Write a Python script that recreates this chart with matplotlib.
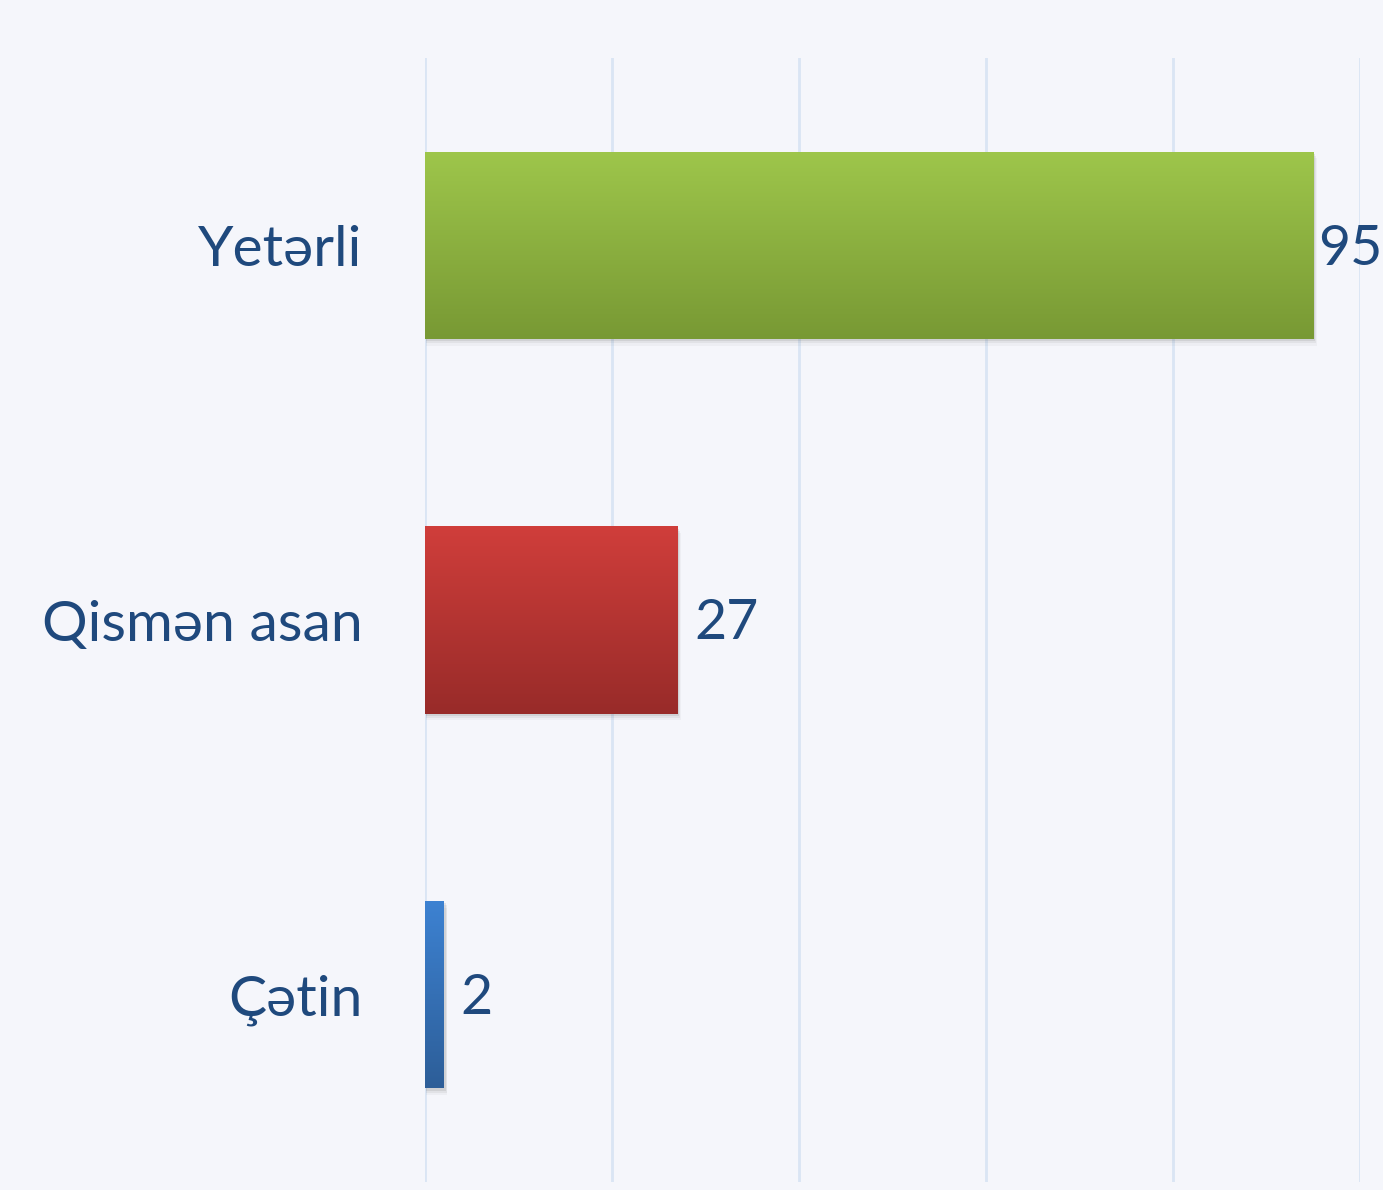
import numpy as np
import matplotlib
matplotlib.use("Agg")
import matplotlib.pyplot as plt
from matplotlib.colors import LinearSegmentedColormap
from matplotlib.patches import Rectangle

categories = ["Çətin", "Qismən asan", "Yetərli"]
values = [2, 27, 95]
top_colors = ["#3D82D2", "#D03E3B", "#9EC64B"]
bottom_colors = ["#2D5E98", "#982B29", "#789934"]

bg = "#F5F6FB"
text_color = "#1F497D"
grid_color = "#DAE5F4"

plt.rcParams["font.family"] = ["Lato", "DejaVu Sans"]

fig = plt.figure(figsize=(13.83, 11.9), dpi=100, facecolor=bg)
ax = fig.add_axes([425 / 1383, 1 - 1182 / 1190, (1360 - 425) / 1383, (1182 - 58) / 1190])
ax.set_facecolor(bg)
ax.set_xlim(0, 100)
ax.set_ylim(-0.5, 2.5)
ax.set_xticks(np.arange(0, 101, 20))
ax.xaxis.grid(True, color=grid_color, linewidth=2)
ax.set_axisbelow(True)
for s in ax.spines.values():
    s.set_visible(False)
ax.tick_params(axis="x", length=0, labelbottom=False)
ax.tick_params(axis="y", length=0, pad=45)
ax.set_yticks(range(len(categories)))
ax.set_yticklabels(categories, fontsize=41, color=text_color)

h = 0.5
for i, (v, ct, cb) in enumerate(zip(values, top_colors, bottom_colors)):
    # soft drop shadow
    for k, a in enumerate([0.10, 0.07, 0.04]):
        d = 0.25 * (k + 1)
        ax.add_patch(Rectangle((0.1, i - h / 2 - 0.006 * (k + 1)), v + d * 0.4, h,
                               facecolor="#404040", alpha=a, edgecolor="none", zorder=2))
    bar = ax.barh(i, v, height=h, color=ct, zorder=3)[0]
    cmap = LinearSegmentedColormap.from_list("g%d" % i, [cb, ct])
    grad = np.linspace(0, 1, 256).reshape(-1, 1)
    im = ax.imshow(grad, cmap=cmap, aspect="auto", origin="lower",
                   extent=(0, v, i - h / 2, i + h / 2), zorder=4)
    im.set_clip_path(bar)
    px = v + 1.8 if v < 90 else v + 0.5
    ax.text(px, i - 0.01, str(v), fontsize=40, color=text_color,
            va="center", ha="left", zorder=5, clip_on=False)

ax.set_xlim(0, 100)
ax.set_ylim(-0.5, 2.5)
fig.savefig("out.png", dpi=100, facecolor=bg)
